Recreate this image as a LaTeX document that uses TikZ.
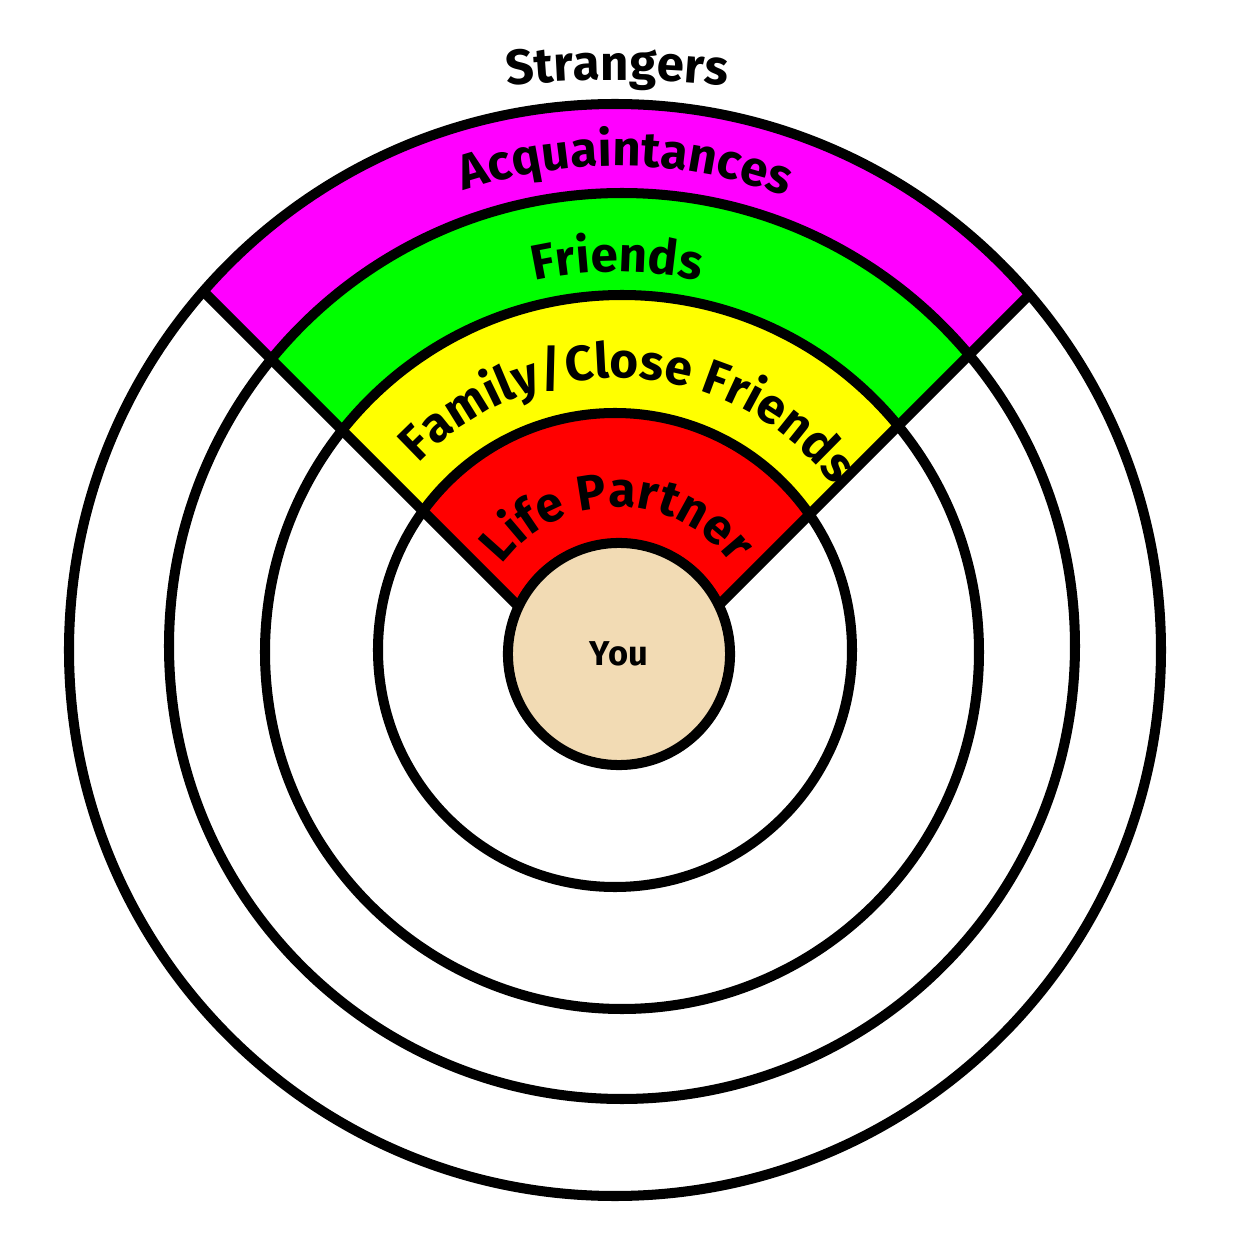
\documentclass[tikz,border=0pt]{standalone}
\usepackage{fontspec}
\setmainfont{Fira Sans}
\usetikzlibrary{decorations.text}
\definecolor{skin}{RGB}{242,219,180}
\definecolor{bandM}{RGB}{255,0,255}
\definecolor{bandG}{RGB}{0,255,0}
\definecolor{bandY}{RGB}{255,255,0}
\definecolor{bandR}{RGB}{255,0,0}
\newcommand\lblfont{\bfseries\fontsize{14}{16}\selectfont}
\begin{document}
\begin{tikzpicture}[x=0.01cm,y=0.01cm,
  ring/.style={line width=2.85pt, draw=black},
  arclabel/.style={decorate, decoration={text along path, text align=center, text={#1}}}]
\useasboundingbox (0,0) rectangle (1250,1250);
\fill[white] (0,0) rectangle (1250,1250);
\coordinate (apex) at (618,544);
\coordinate (c5) at (615,600);
\coordinate (c4) at (622,604);
\coordinate (c3) at (622,598);
\coordinate (c2) at (615,600);
\coordinate (tc) at (617,600);
\coordinate (sc) at (617,170);
% coloured wedge
\begin{scope}
  \clip (apex) -- ++(135:900) -- ++(0:1272.8) -- cycle;
  \fill[bandM] (c5) circle (546);
  \fill[bandG] (c4) circle (453);
  \fill[bandY] (c3) circle (357);
  \fill[bandR] (c2) circle (237);
\end{scope}
% wedge lines
\begin{scope}
  \clip (c5) circle (546);
  \draw[ring] (apex) -- ++(135:900);
  \draw[ring] (apex) -- ++(45:900);
\end{scope}
% rings
\draw[ring] (c5) circle (546);
\draw[ring] (c4) circle (453);
\draw[ring] (c3) circle (357);
\draw[ring] (c2) circle (237);
% you
\node[circle, ring, fill=skin, minimum size=2.22cm, inner sep=0pt] (you) at (619,596)
  {\bfseries\fontsize{9.8}{11}\selectfont You};
% labels
\path[arclabel={|\lblfont|Strangers}] ([shift={(100:1000)}]sc) arc (100:80:1000);
\path[arclabel={|\lblfont|Acquaintances}] ([shift={(170:484)}]tc) arc (170:8:484);
\path[arclabel={|\lblfont|Friends}] ([shift={(170:378)}]tc) arc (170:10:378);
\path[arclabel={|\lblfont|Family/Close Friends}] ([shift={(172:272)}]tc) arc (172:2:272);
\path[arclabel={|\lblfont|Life Partner}] ([shift={(175:143)}]tc) arc (175:5:143);
\end{tikzpicture}
\end{document}
